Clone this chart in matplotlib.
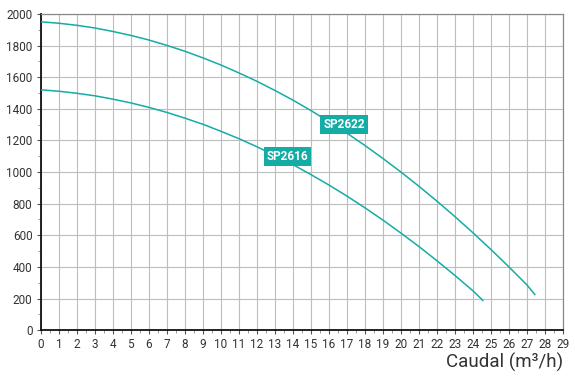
import matplotlib
matplotlib.use('Agg')
import matplotlib.pyplot as plt
from matplotlib.ticker import MultipleLocator

# values
q_2622 = [0, 1, 2, 3, 4, 5, 6, 7, 8, 9, 10, 11, 12, 13, 14, 15, 16, 17, 18, 19, 20,
          21, 22, 23, 24, 25, 26, 27, 27.44]
h_2622 = [1950, 1941, 1928, 1911, 1889, 1864, 1835, 1801, 1764, 1722, 1677, 1627, 1574,
          1516, 1455, 1389, 1319, 1246, 1168, 1086, 1000, 910, 816, 718, 616, 510, 400,
          286, 225]

q_2616 = [0, 1, 2, 3, 4, 5, 6, 7, 8, 9, 10, 11, 12, 13, 14, 15, 16, 17, 18, 19, 20,
          21, 22, 23, 24, 24.55]
h_2616 = [1520, 1511, 1498, 1482, 1461, 1437, 1409, 1377, 1341, 1302, 1258, 1211, 1160,
          1105, 1047, 984, 918, 848, 774, 696, 614, 529, 439, 346, 249, 188]

labels = ["SP2622", "SP2616"]
label_pos = [(16.85, 1300), (13.7, 1097)]

teal = "#14aca5"
plt.rcParams['font.family'] = ['Roboto', 'DejaVu Sans']

fig = plt.figure(figsize=(5.75, 3.76), dpi=100)
ax = fig.add_axes([0.071, 0.122, 0.908, 0.841])

ax.plot(q_2622, h_2622, color=teal, lw=1.1, zorder=3)
ax.plot(q_2616, h_2616, color=teal, lw=1.1, zorder=3)

for txt, (x, y) in zip(labels, label_pos):
    ax.text(x, y, txt, color='white', fontsize=8.5, fontweight='bold', ha='center', va='center',
            zorder=4, bbox=dict(boxstyle='square,pad=0.25', fc=teal, ec='none'))

ax.set_xlim(0, 29)
ax.set_ylim(0, 2000)
ax.xaxis.set_major_locator(MultipleLocator(1))
ax.xaxis.set_minor_locator(MultipleLocator(0.5))
ax.yaxis.set_major_locator(MultipleLocator(200))
ax.yaxis.set_minor_locator(MultipleLocator(100))
ax.grid(which='major', color='#bdbdbd', lw=0.8, zorder=0)
ax.tick_params(which='major', length=3, width=0.8, color='#555555', labelsize=8.5,
               labelcolor='#333333', pad=3)
ax.tick_params(which='minor', length=2, width=0.6, color='#888888')

for s in ['left', 'bottom']:
    ax.spines[s].set_color('#111111')
    ax.spines[s].set_linewidth(1.3)
for s in ['top', 'right']:
    ax.spines[s].set_color('#888888')
    ax.spines[s].set_linewidth(0.9)

fig.text(0.979, 0.035, "Caudal (m³/h)", ha='right', va='center', fontsize=13.5, color='#333333')

fig.savefig("out.png", dpi=100)
